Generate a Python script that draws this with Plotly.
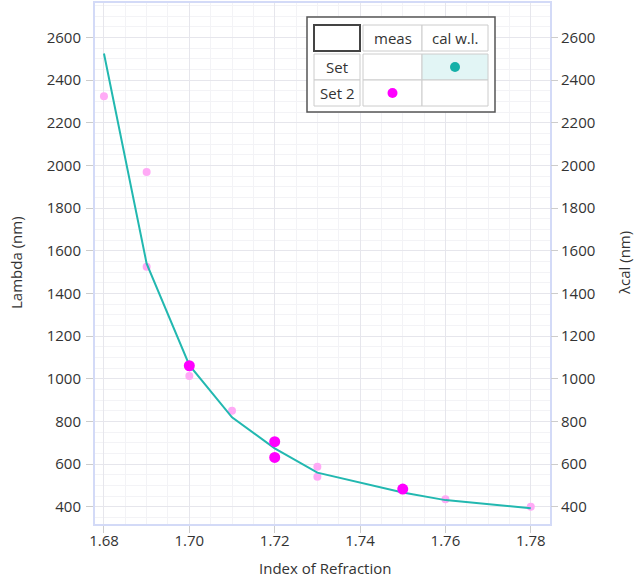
import plotly.graph_objects as go

# ---- data ----
cal_n = [1.68, 1.69, 1.70, 1.71, 1.72, 1.73, 1.75, 1.76, 1.78]
cal_wl = [2525, 1540, 1064, 819, 674, 560, 467, 431, 393]

meas2_n = [1.70, 1.72, 1.72, 1.75]
meas2_wl = [1061, 705, 631, 483]

meas1_n = [1.68, 1.69, 1.69, 1.70, 1.71, 1.73, 1.73, 1.76, 1.78]
meas1_wl = [2325, 1970, 1525, 1013, 850, 587, 541, 435, 400]

x_ticks = [1.68, 1.70, 1.72, 1.74, 1.76, 1.78]
y_ticks = [400, 600, 800, 1000, 1200, 1400, 1600, 1800, 2000, 2200, 2400, 2600]

W, H = 636, 581
L, R, T, B = 95, 550, 3, 524  # plot area in pixels

FONT = "Open Sans"
FS = 15
TEAL = "#22b8b0"
MAGENTA = "#ff00ff"
PINK = "#ffaaf6"
AXIS_LINE = "#d3daf7"
GRID = "#e6e6ec"
MINOR = "#f3f3f6"

fig = go.Figure()
fig.add_trace(go.Scatter(x=meas1_n, y=meas1_wl, mode="markers",
                         marker=dict(color=PINK, size=8), showlegend=False))
fig.add_trace(go.Scatter(x=cal_n, y=cal_wl, mode="lines",
                         line=dict(color=TEAL, width=2), showlegend=False))
fig.add_trace(go.Scatter(x=meas2_n, y=meas2_wl, mode="markers",
                         marker=dict(color=MAGENTA, size=11), showlegend=False))
# invisible trace to activate right axis
fig.add_trace(go.Scatter(x=[cal_n[0]], y=[cal_wl[0]], yaxis="y2", mode="markers",
                         marker=dict(opacity=0), showlegend=False, hoverinfo="skip"))

yr = [319, 2762]
fig.update_layout(
    width=W, height=H,
    margin=dict(l=L, r=W - R, t=T, b=H - B, autoexpand=False),
    paper_bgcolor="white", plot_bgcolor="white",
    font=dict(family=FONT, size=FS, color="#333"),
    xaxis=dict(range=[1.6779, 1.7845], tickvals=x_ticks, ticktext=[f"{v:.2f}" for v in x_ticks],
               showgrid=True, gridcolor=GRID, gridwidth=1, automargin=False,
               minor=dict(dtick=0.005, tick0=1.68, showgrid=True, gridcolor=MINOR, ticklen=0),
               showline=True, linecolor=AXIS_LINE, linewidth=2, mirror=True,
               ticks="outside", ticklen=7, tickcolor="#cccccc", zeroline=False,
               ticklabelstandoff=-5,
               tickfont=dict(size=FS, color="#333")),
    yaxis=dict(range=yr, tickvals=y_ticks, automargin=False,
               showgrid=True, gridcolor=GRID, gridwidth=1,
               minor=dict(dtick=50, tick0=0, showgrid=True, gridcolor=MINOR, ticklen=0),
               showline=True, linecolor=AXIS_LINE, linewidth=2, mirror=True,
               ticks="outside", ticklen=7, tickcolor="#cccccc", zeroline=False,
               ticklabelstandoff=2,
               tickfont=dict(size=FS, color="#333")),
    yaxis2=dict(range=yr, tickvals=y_ticks, overlaying="y", side="right", automargin=False,
                showgrid=False, zeroline=False, showline=False,
                ticks="outside", ticklen=7, tickcolor="#cccccc",
                tickfont=dict(size=FS, color="#333")),
)


def px(x):
    return (x - L) / (R - L)


def py(y):
    return (B - y) / (B - T)


shapes = []
annotations = []

# axis titles
annotations.append(dict(text="Index of Refraction", xref="paper", yref="paper",
                        x=px(325), y=py(568), showarrow=False,
                        xanchor="center", yanchor="middle",
                        font=dict(size=FS, color="#333")))
annotations.append(dict(text="Lambda (nm)", xref="paper", yref="paper",
                        x=px(16), y=py(263), showarrow=False, textangle=-90,
                        xanchor="center", yanchor="middle",
                        font=dict(size=FS, color="#333")))
annotations.append(dict(text="λcal (nm)", xref="paper", yref="paper",
                        x=px(624), y=py(263), showarrow=False, textangle=-90,
                        xanchor="center", yanchor="middle",
                        font=dict(size=FS, color="#333")))

# legend table
def rect(x0, y0, x1, y1, line, width, fill="white"):
    shapes.append(dict(type="rect", xref="paper", yref="paper",
                       x0=px(x0), x1=px(x1), y0=py(y0), y1=py(y1),
                       line=dict(color=line, width=width), fillcolor=fill, layer="above"))


rect(307, 17, 495, 112, "#555555", 1.5)
cols = [(314, 360), (363, 422), (422, 488)]
rows = [(25, 51), (54, 80), (80, 106)]
rect(cols[0][0], rows[0][0], cols[0][1], rows[0][1], "#444444", 2)
for ci in (1, 2):
    rect(cols[ci][0], rows[0][0], cols[ci][1], rows[0][1], "#cccccc", 1)
for ri in (1, 2):
    for ci in (0, 1, 2):
        fill = "#e2f5f5" if (ri == 1 and ci == 2) else "white"
        rect(cols[ci][0], rows[ri][0], cols[ci][1], rows[ri][1], "#cccccc", 1, fill)

col_labels = ["meas", "cal w.l."]
row_labels = ["Set", "Set 2"]
for ci, lab in enumerate(col_labels, start=1):
    annotations.append(dict(text=lab, xref="paper", yref="paper",
                            x=px((cols[ci][0] + cols[ci][1]) / 2), y=py((rows[0][0] + rows[0][1]) / 2),
                            xanchor="center", yanchor="middle",
                            showarrow=False, font=dict(size=FS, color="#333")))
for ri, lab in enumerate(row_labels, start=1):
    annotations.append(dict(text=lab, xref="paper", yref="paper",
                            x=px((cols[0][0] + cols[0][1]) / 2), y=py((rows[ri][0] + rows[ri][1]) / 2),
                            xanchor="center", yanchor="middle",
                            showarrow=False, font=dict(size=FS, color="#333")))


def dot(cx, cy, color, d=10):
    shapes.append(dict(type="circle", xref="paper", yref="paper",
                       xsizemode="pixel", ysizemode="pixel",
                       xanchor=px(cx), yanchor=py(cy),
                       x0=-d / 2, x1=d / 2, y0=-d / 2, y1=d / 2,
                       line=dict(width=0), fillcolor=color, layer="above"))


dot((cols[2][0] + cols[2][1]) / 2, (rows[1][0] + rows[1][1]) / 2, "#14b0a8")
dot((cols[1][0] + cols[1][1]) / 2, (rows[2][0] + rows[2][1]) / 2, MAGENTA)

fig.update_layout(shapes=shapes, annotations=annotations)
fig.write_html("out.html", config={"displayModeBar": False},
               post_script="document.body.style.margin='0px';")
